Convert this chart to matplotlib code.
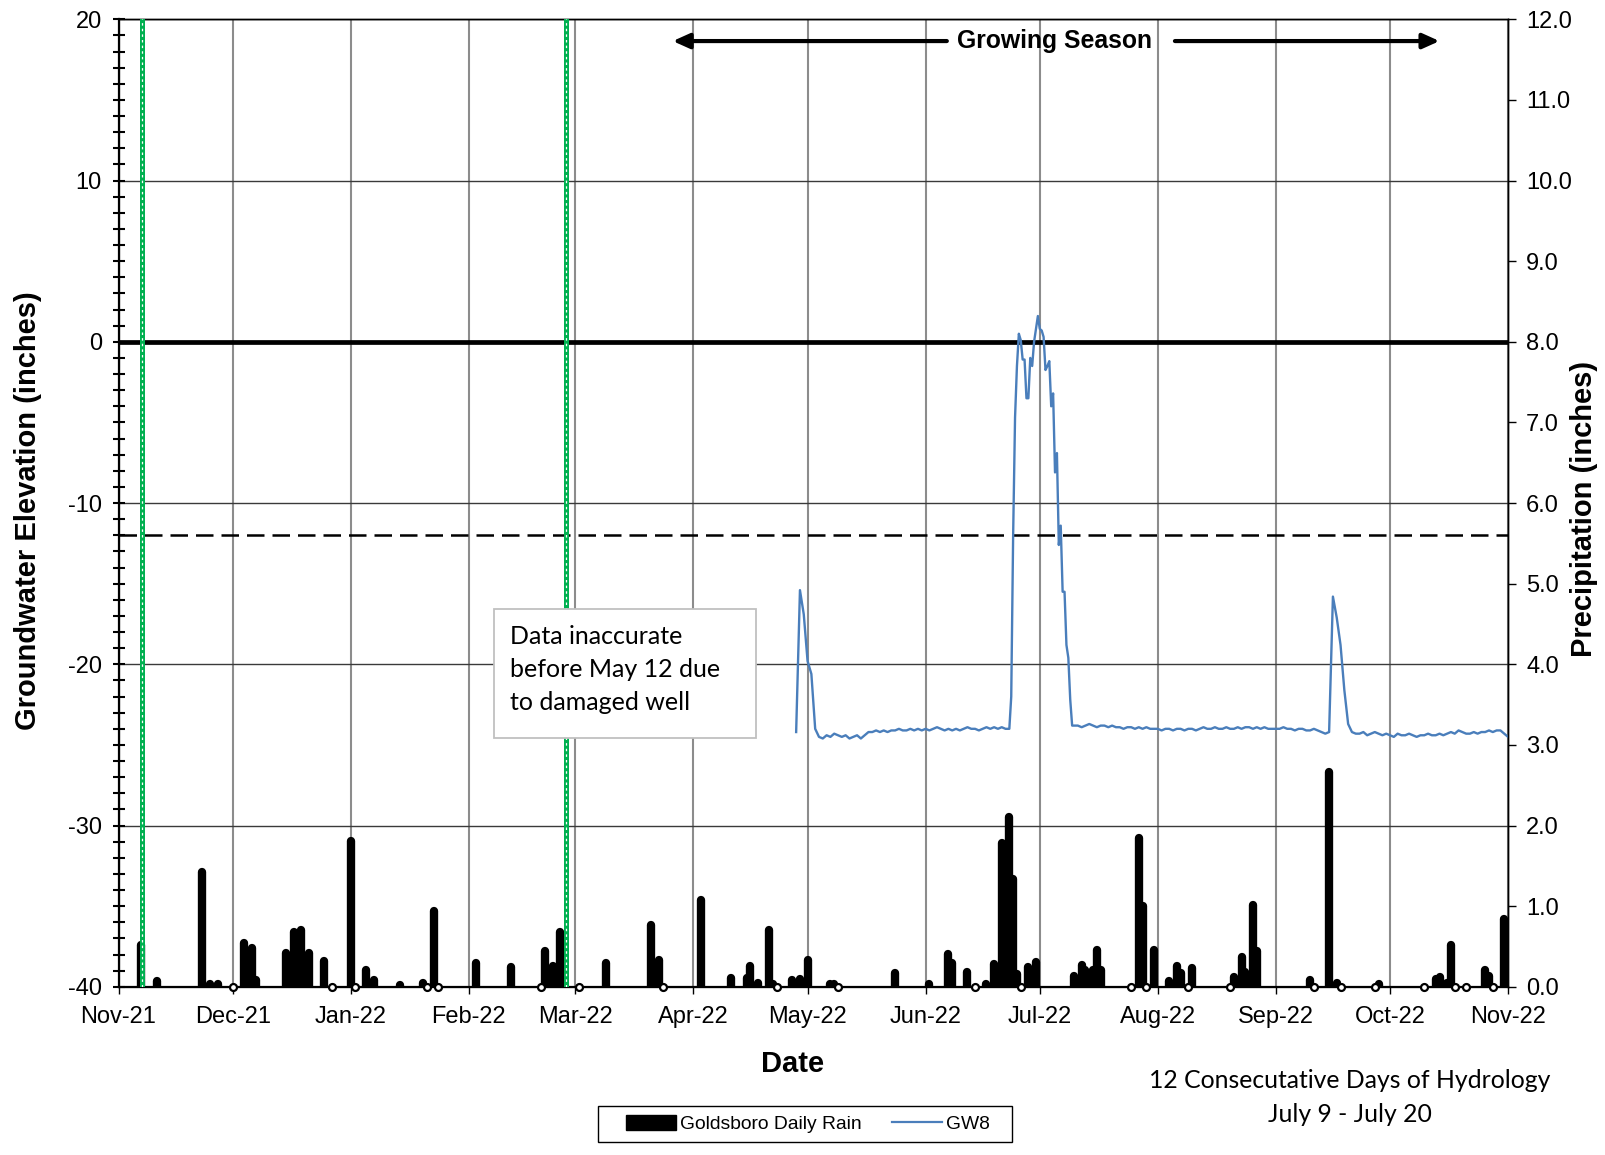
import numpy as np
import pandas as pd
import matplotlib
matplotlib.use("Agg")
import matplotlib.pyplot as plt
import matplotlib.dates as mdates
from matplotlib.ticker import MultipleLocator, FormatStrFormatter
from matplotlib.patches import Rectangle, Patch
from matplotlib.lines import Line2D

plt.rcParams['font.family'] = ['Liberation Sans', 'DejaVu Sans']
plt.rcParams['axes.unicode_minus'] = False

# --- Goldsboro daily rain (inches) ---
rain_dates = ['2021-11-07', '2021-11-11', '2021-11-23', '2021-11-25', '2021-11-27',
              '2021-12-01', '2021-12-04', '2021-12-06', '2021-12-07', '2021-12-15',
              '2021-12-17', '2021-12-19', '2021-12-21', '2021-12-25', '2021-12-27',
              '2022-01-01', '2022-01-02', '2022-01-05', '2022-01-07', '2022-01-14',
              '2022-01-20', '2022-01-21', '2022-01-23', '2022-01-24', '2022-02-03',
              '2022-02-12', '2022-02-20', '2022-02-21', '2022-02-23', '2022-02-25',
              '2022-03-02', '2022-03-09', '2022-03-21', '2022-03-23', '2022-03-24',
              '2022-04-03', '2022-04-11', '2022-04-15', '2022-04-16', '2022-04-18',
              '2022-04-21', '2022-04-22', '2022-04-23', '2022-04-27', '2022-04-29',
              '2022-05-01', '2022-05-07', '2022-05-08', '2022-05-09', '2022-05-24',
              '2022-06-02', '2022-06-07', '2022-06-08', '2022-06-12', '2022-06-14',
              '2022-06-17', '2022-06-19', '2022-06-21', '2022-06-23', '2022-06-24',
              '2022-06-25', '2022-06-26', '2022-06-28', '2022-06-30', '2022-07-10',
              '2022-07-12', '2022-07-13', '2022-07-15', '2022-07-16', '2022-07-17',
              '2022-07-25', '2022-07-27', '2022-07-28', '2022-07-29', '2022-07-31',
              '2022-08-04', '2022-08-06', '2022-08-07', '2022-08-09', '2022-08-10',
              '2022-08-20', '2022-08-21', '2022-08-23', '2022-08-24', '2022-08-26',
              '2022-08-27', '2022-09-10', '2022-09-11', '2022-09-15', '2022-09-17',
              '2022-09-18', '2022-09-27', '2022-09-28', '2022-10-10', '2022-10-13',
              '2022-10-14', '2022-10-16', '2022-10-17', '2022-10-18', '2022-10-21',
              '2022-10-26', '2022-10-27', '2022-10-28', '2022-10-31']
rain_in = [0.52, 0.07, 1.43, 0.04, 0.03,
           0.0, 0.54, 0.48, 0.08, 0.42,
           0.68, 0.70, 0.42, 0.32, 0.0,
           1.81, 0.0, 0.21, 0.08, 0.02,
           0.05, 0.0, 0.94, 0.0, 0.29,
           0.25, 0.0, 0.45, 0.26, 0.68,
           0.0, 0.29, 0.77, 0.33, 0.0,
           1.08, 0.11, 0.11, 0.26, 0.05,
           0.71, 0.04, 0.0, 0.08, 0.10,
           0.33, 0.04, 0.03, 0.0, 0.17,
           0.03, 0.41, 0.30, 0.19, 0.0,
           0.03, 0.28, 1.79, 2.11, 1.34,
           0.16, 0.0, 0.25, 0.31, 0.14,
           0.27, 0.21, 0.21, 0.46, 0.21,
           0.0, 1.84, 1.00, 0.0, 0.46,
           0.07, 0.26, 0.17, 0.0, 0.23,
           0.0, 0.12, 0.37, 0.19, 1.01,
           0.45, 0.09, 0.0, 2.67, 0.05,
           0.0, 0.0, 0.03, 0.0, 0.10,
           0.12, 0.05, 0.52, 0.0, 0.0,
           0.21, 0.14, 0.0, 0.84]

# --- GW8 groundwater elevation (inches) ---
# daily readings Apr 28 - Jun 22
gw8_apr = [-24.2, -15.4, -16.9]
gw8_may = [-19.8, -20.6, -24.0, -24.5, -24.6, -24.4, -24.5, -24.3, -24.4, -24.5,
           -24.4, -24.6, -24.5, -24.4, -24.6, -24.4, -24.2, -24.2, -24.1, -24.2,
           -24.1, -24.2, -24.1, -24.1, -24.0, -24.1, -24.1, -24.0, -24.1, -24.0,
           -24.1]
gw8_jun = [-24.0, -24.1, -24.0, -23.9, -24.0, -24.1, -24.0, -24.1, -24.0, -24.1,
           -24.0, -23.9, -24.0, -24.0, -24.1, -24.0, -23.9, -24.0, -23.9, -24.0,
           -23.9, -24.0]
# 12-hour readings Jun 23 - Jul 10 (summer high-water event)
gw8_event = [-24.0, -22.0, -12.0, -4.7, -1.5, 0.5, 0.1, -1.1, -1.1, -3.5,
             -3.5, -1.0, -1.5, 0.0, 0.8, 1.6, 0.8, 0.7, 0.3, -1.75,
             -1.5, -1.2, -4.0, -3.2, -8.1, -6.9, -12.6, -11.4, -15.5, -15.5,
             -18.8, -19.6, -22.2, -23.8, -23.8]
# daily readings Jul 11 - Nov 1
gw8_jul = [-23.8, -23.9, -23.8, -23.7, -23.8, -23.9, -23.8, -23.8, -23.9, -23.8,
           -23.9, -23.9, -24.0, -23.9, -23.9, -24.0, -23.9, -24.0, -23.9, -24.0,
           -24.0]
gw8_aug = [-24.0, -24.1, -24.0, -24.0, -24.1, -24.0, -24.0, -24.1, -24.0, -24.0,
           -24.1, -24.0, -23.9, -24.0, -24.0, -23.9, -24.0, -24.0, -23.9, -24.0,
           -24.0, -23.9, -24.0, -23.9, -23.9, -24.0, -23.9, -24.0, -23.9, -24.0,
           -24.0]
gw8_sep = [-24.0, -24.0, -23.9, -24.0, -24.0, -24.1, -24.0, -24.0, -24.1, -24.1,
           -24.0, -24.1, -24.2, -24.3, -24.2, -15.8, -17.1, -18.8, -21.6, -23.7,
           -24.2, -24.3, -24.3, -24.2, -24.4, -24.3, -24.2, -24.3, -24.4, -24.3]
gw8_oct = [-24.4, -24.5, -24.3, -24.4, -24.4, -24.3, -24.4, -24.5, -24.4, -24.4,
           -24.3, -24.4, -24.4, -24.3, -24.4, -24.3, -24.2, -24.3, -24.1, -24.2,
           -24.3, -24.3, -24.2, -24.3, -24.2, -24.2, -24.1, -24.2, -24.1, -24.1,
           -24.3]
gw8_nov = [-24.5]

spring = gw8_apr + gw8_may + gw8_jun
autumn = gw8_jul + gw8_aug + gw8_sep + gw8_oct + gw8_nov
gw8_dates = (list(pd.date_range('2022-04-28', periods=len(spring), freq='D'))
             + list(pd.date_range('2022-06-23', periods=len(gw8_event), freq='12h'))
             + list(pd.date_range('2022-07-11', periods=len(autumn), freq='D')))
gw8_level = spring + gw8_event + autumn

# well damage window markers
well_dates = ['2021-11-07 06:00', '2022-02-26 10:00']
jurisdictional_depth = -12
growing_season = ('2022-03-26 14:00', '2022-10-14')

# --- Figure ---
fig = plt.figure(figsize=(16.06, 11.55), dpi=100)
ax = fig.add_axes([0.0738, 0.1456, 0.8652, 0.8377])
ax2 = ax.twinx()

x0, x1 = pd.Timestamp('2021-11-01'), pd.Timestamp('2022-11-01')

# grid
ax.grid(axis='x', color='#8c8c8c', lw=1.5, zorder=0)
ax.grid(axis='y', color='#3a3a3a', lw=1.0, zorder=0)

ax.axhline(0, color='black', lw=3.4, zorder=2)
ax.axhline(jurisdictional_depth, color='black', lw=1.8, dashes=(7, 3.2), zorder=2)

ax.plot(gw8_dates, gw8_level, color='#4a7ebb', lw=1.7, zorder=3)

# rain bars
rain_t = pd.to_datetime(rain_dates)
rain_v = np.array(rain_in)
wet = rain_v > 0
bars = ax2.vlines(rain_t[wet], 0, rain_v[wet], colors='black', lw=6.0, zorder=3)
bars.set_capstyle('round')
ax2.plot(rain_t[~wet], rain_v[~wet], 'o', ms=5, mfc='white', mec='black', mew=1.6,
         zorder=3, clip_on=False)

for d in well_dates:
    ax2.axvline(pd.Timestamp(d), color='#00b050', lw=3.6, zorder=4)
    ax2.axvline(pd.Timestamp(d), color='white', lw=0.9, ls=(0, (2.0, 2.5)), zorder=4.1)

# note box
bx0 = mdates.date2num(pd.Timestamp('2022-02-07 12:00'))
bx1 = mdates.date2num(pd.Timestamp('2022-04-17 10:00'))
ax2.add_patch(Rectangle((bx0, -24.55), bx1 - bx0, 8.0, transform=ax.transData,
                        fc='white', ec='#c0c0c0', lw=1.3, zorder=5))
tx = mdates.date2num(pd.Timestamp('2022-02-11 18:00'))
for line, yb in zip(['Data inaccurate', 'before May 12 due', 'to damaged well'],
                    [-18.71, -20.78, -22.85]):
    ax2.text(tx, yb, line, transform=ax.transData, fontsize=18, family='Lato',
             va='baseline', ha='left', zorder=6)

# growing season arrows
gs_left = mdates.date2num(pd.Timestamp(growing_season[0]))
gs_right = mdates.date2num(pd.Timestamp(growing_season[1]))
gy = 18.65
ax.text(mdates.date2num(pd.Timestamp('2022-07-04 18:00')), gy, 'Growing Season',
        ha='center', va='center', fontsize=17.8, fontweight='bold', zorder=6)
arrow = dict(arrowstyle='-|>,head_length=1.0,head_width=0.45', color='black',
             lw=3, shrinkA=0, shrinkB=0)
ax.annotate('', xy=(gs_left, gy), xytext=(mdates.date2num(pd.Timestamp('2022-06-06 14:00')), gy),
            arrowprops=arrow, zorder=6)
ax.annotate('', xy=(gs_right, gy), xytext=(mdates.date2num(pd.Timestamp('2022-08-05 12:00')), gy),
            arrowprops=arrow, zorder=6)

# axes
ax.set_xlim(x0, x1)
ax.set_ylim(-40, 20)
ax2.set_ylim(0, 12)
ax.xaxis.set_major_locator(mdates.MonthLocator())
ax.xaxis.set_major_formatter(mdates.DateFormatter('%b-%y'))
ax.yaxis.set_major_locator(MultipleLocator(10))
ax.yaxis.set_minor_locator(MultipleLocator(1))
ax2.yaxis.set_major_locator(MultipleLocator(1))
ax2.yaxis.set_major_formatter(FormatStrFormatter('%.1f'))

ax.tick_params(axis='y', which='both', direction='inout', length=8, width=1.5,
               labelsize=17, pad=8)
ax.tick_params(axis='x', direction='out', length=5, width=1, labelsize=17, pad=9)
ax2.tick_params(axis='y', direction='out', length=6, width=1, labelsize=17, pad=7)

ax.spines['left'].set_linewidth(1.6)
ax.spines['bottom'].set_linewidth(1.6)
for s in ('top', 'right'):
    ax.spines[s].set_linewidth(1.0)
    ax2.spines[s].set_linewidth(1.0)

fig.text(0.0175, 0.5576, 'Groundwater Elevation (inches)', rotation=90, ha='center',
         va='center', fontsize=21, fontweight='bold')
fig.text(0.986, 0.559, 'Precipitation (inches)', rotation=90, ha='center',
         va='center', fontsize=21, fontweight='bold')
fig.text(0.4938, 0.0785, 'Date', ha='center', va='center', fontsize=21, fontweight='bold')

fig.text(0.8406, 1 - 1080.5 / 1155, '12 Consecutative Days of Hydrology', ha='center',
         va='center', fontsize=17.8, family='Lato')
fig.text(0.8406, 1 - 1114.4 / 1155, 'July 9 - July 20', ha='center',
         va='center', fontsize=17.8, family='Lato')

# legend with its own frame
fig.patches.append(Rectangle((0.3724, 0.0113), 0.2578, 0.0312, transform=fig.transFigure,
                             fc='white', ec='black', lw=1.0, zorder=5))
handles = [Patch(facecolor='black', edgecolor='black'),
           Line2D([], [], color='#4a7ebb', lw=1.6)]
leg = fig.legend(handles, ['Goldsboro Daily Rain', 'GW8'], loc='center',
                 bbox_to_anchor=(0.503, 0.0268), ncol=2, frameon=False,
                 fontsize=13.9, handlelength=2.6, handleheight=0.8,
                 columnspacing=1.6, handletextpad=0.2)
leg.set_zorder(6)

fig.savefig('out.png', dpi=100)
